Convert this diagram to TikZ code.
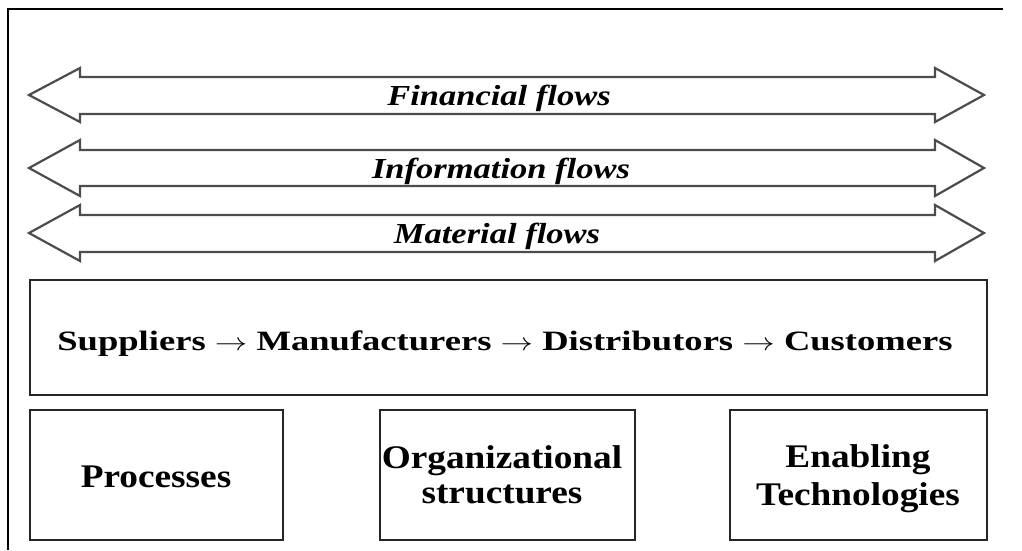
\documentclass[tikz,border=0pt]{standalone}
\usepackage{fontspec}
\usepackage{graphicx}
\setmainfont{Liberation Serif}
\begin{document}
\begin{tikzpicture}[x=1pt,y=-1pt,
  flow/.style={draw=black!70,line width=2.2pt,line join=miter},
  box/.style={draw=black!85,line width=2.4pt,inner sep=0pt},
  flowlabel/.style={font=\bfseries\itshape\fontsize{29}{32}\selectfont,inner sep=0pt,anchor=base},
  boxlabel/.style={font=\bfseries\fontsize{33}{36}\selectfont,inner sep=0pt,align=center}]
\useasboundingbox (0,0) rectangle (1022,550);
% frame
\draw[line width=2pt] (1003,9) -- (8,9) -- (8,550);
% arrows
\foreach \t/\h/\b/\e in {95/68/77/114, 168/140/150/186, 233/205/215/252}{
  \pgfmathsetmacro{\hb}{2*\t-\h}
  \draw[flow] (29,\t) -- (80,\h) -- (80,\b) -- (935,\b) -- (935,\h) -- (984,\t) -- (935,\hb) -- (935,\e) -- (80,\e) -- (80,\hb) -- cycle;
}
\node[flowlabel] (fin) at (499,105) {\scalebox{1.19}[1]{Financial flows}};
\node[flowlabel] (inf) at (501,178) {\scalebox{1.19}[1]{Information flows}};
\node[flowlabel] (mat) at (497,243) {\scalebox{1.19}[1]{Material flows}};
% supply chain
\node[box,minimum width=957pt,minimum height=115pt] (chain) at (508.5,337.5) {};
\node[font=\bfseries\fontsize{28}{31}\selectfont,inner sep=0pt,anchor=base] (chaintxt) at (505,350)
  {\scalebox{1.306}[1]{Suppliers $\rightarrow$ Manufacturers $\rightarrow$ Distributors $\rightarrow$ Customers}};
% bottom boxes
\node[box,minimum width=253pt,minimum height=130pt] (proc) at (156.5,475) {};
\node[box,minimum width=255pt,minimum height=130pt] (org) at (507.5,475) {};
\node[box,minimum width=257pt,minimum height=130pt] (tech) at (858.5,475) {};
\node[boxlabel,anchor=base] (proctxt) at (156,487) {\scalebox{1.13}[1]{Processes}};
\node[boxlabel,anchor=base] (orgtxt1) at (502,468) {\scalebox{1.13}[1]{Organizational}};
\node[boxlabel,anchor=base] (orgtxt2) at (502,503) {\scalebox{1.13}[1]{structures}};
\node[boxlabel,anchor=base] (techtxt1) at (858,467) {\scalebox{1.13}[1]{Enabling}};
\node[boxlabel,anchor=base] (techtxt2) at (858,505) {\scalebox{1.13}[1]{Technologies}};
\end{tikzpicture}
\end{document}
